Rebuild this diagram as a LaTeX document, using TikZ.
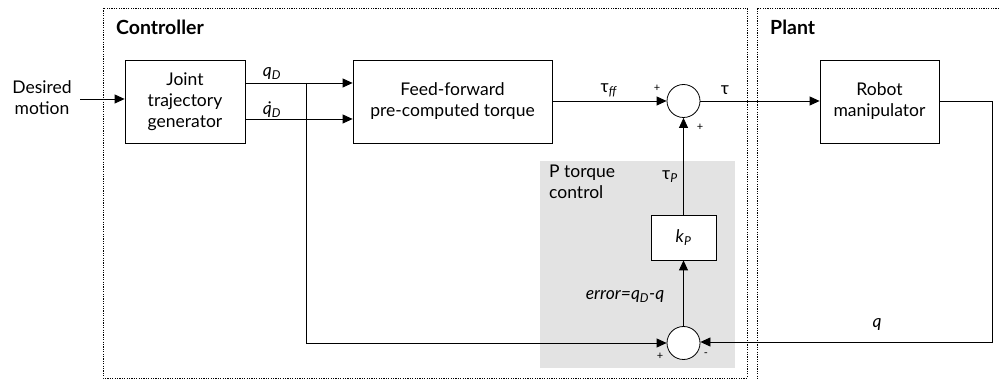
\documentclass[tikz,border=0pt]{standalone}
\usepackage{fontspec}
\setmainfont{Lato}
\usetikzlibrary{arrows.meta,calc}
\newcommand{\sbs}[1]{\textsubscript{\textit{#1}}}
\begin{document}
\begin{tikzpicture}[x=1pt,y=-1pt,
  font=\fontsize{17.5}{21}\selectfont,
  blk/.style={draw, line width=0.8pt, align=center, inner sep=0pt},
  sumc/.style={draw, line width=0.8pt, circle, minimum size=33pt, inner sep=0pt, fill=white},
  arr/.style={line width=0.8pt, -{Triangle[length=10pt,width=9pt]}},
  ln/.style={line width=0.8pt},
  frame/.style={line width=0.8pt, dash pattern=on 1.2pt off 1.2pt},
  lbl/.style={inner sep=0pt, font=\fontsize{17.5}{21}\selectfont},
  sml/.style={inner sep=0pt, font=\fontsize{11}{12}\selectfont}]
\useasboundingbox (0,0) rectangle (999,379);
% gray area
\fill[gray!22] (540,161) rectangle (735,368);
% frames
\draw[frame] (103,8) rectangle (747,378);
\draw[frame] (999,8) -- (757,8) -- (757,379);
\node[anchor=west, inner sep=0pt, font=\fontsize{19.5}{22}\selectfont\bfseries] (ctl) at (116,27) {Controller};
\node[anchor=west, inner sep=0pt, font=\fontsize{19.5}{22}\selectfont\bfseries] (plt) at (770,27) {Plant};
% blocks
\node[blk, minimum width=120pt, minimum height=83pt] (jtg) at (185,101.5) {Joint\\trajectory\\generator};
\node[blk, minimum width=199pt, minimum height=83pt] (ff) at (452.5,101.5) {Feed-forward\\pre-computed torque};
\node[blk, minimum width=119pt, minimum height=83pt] (rob) at (879.5,101.5) {Robot\\manipulator};
\node[blk, minimum width=65pt, minimum height=45pt, fill=white] (kp) at (683.5,237.5) {\textit{k}\sbs{P}};
\node[sumc] (s1) at (683.5,101) {};
\node[sumc] (s2) at (683.5,343) {};
% input
\node[lbl, align=center] (dm) at (42,98) {Desired\\motion};
\coordinate (in) at (80,99);
\draw[arr] (in) -- (jtg.west |- in);
% qD and qdotD
\coordinate (qa) at (245,83);
\coordinate (qb) at (245,119);
\coordinate (br) at (306,83);
\draw[arr] (qa) -- (ff.west |- qa);
\draw[arr] (qb) -- (ff.west |- qb);
\draw[arr] (br) |- (s2.west);
\node[lbl] (lqd) at (272,74) {\textit{q}\sbs{D}};
\node[lbl] (lqdd) at (272,110) {\textit{\.q}\sbs{D}};
% feed-forward to sum
\draw[arr] (ff.east |- s1) -- (s1.west);
\node[lbl] (ltff) at (609,90) {τ\sbs{ff}};
\node[sml] (p1) at (657,88) {+};
\node[sml] (p2) at (700,127) {+};
% tau to robot
\draw[arr] (s1.east) -- (rob.west |- s1);
\node[lbl] (ltau) at (725,90) {τ};
% feedback
\coordinate (c1) at (992,101);
\coordinate (c2) at (992,342);
\draw[arr] (rob.east |- c1) -- (c1) -- (c2) -- (s2.east |- c2);
\node[lbl] (lq) at (877,325) {\textit{q}};
\node[sml] (p3) at (660,356) {+};
\node[sml] (m3) at (706,355) {-};
% P control
\draw[arr] (s2.north) -- (kp.south);
\draw[arr] (kp.north) -- (s1.south);
\node[lbl, align=left, anchor=north west] (ptc) at (549,165) {P torque\\control};
\node[lbl] (ltp) at (670,177) {τ\sbs{P}};
\node[lbl] (lerr) at (625,297) {\textit{error=q}\sbs{D}\textit{-q}};
\end{tikzpicture}
\end{document}
